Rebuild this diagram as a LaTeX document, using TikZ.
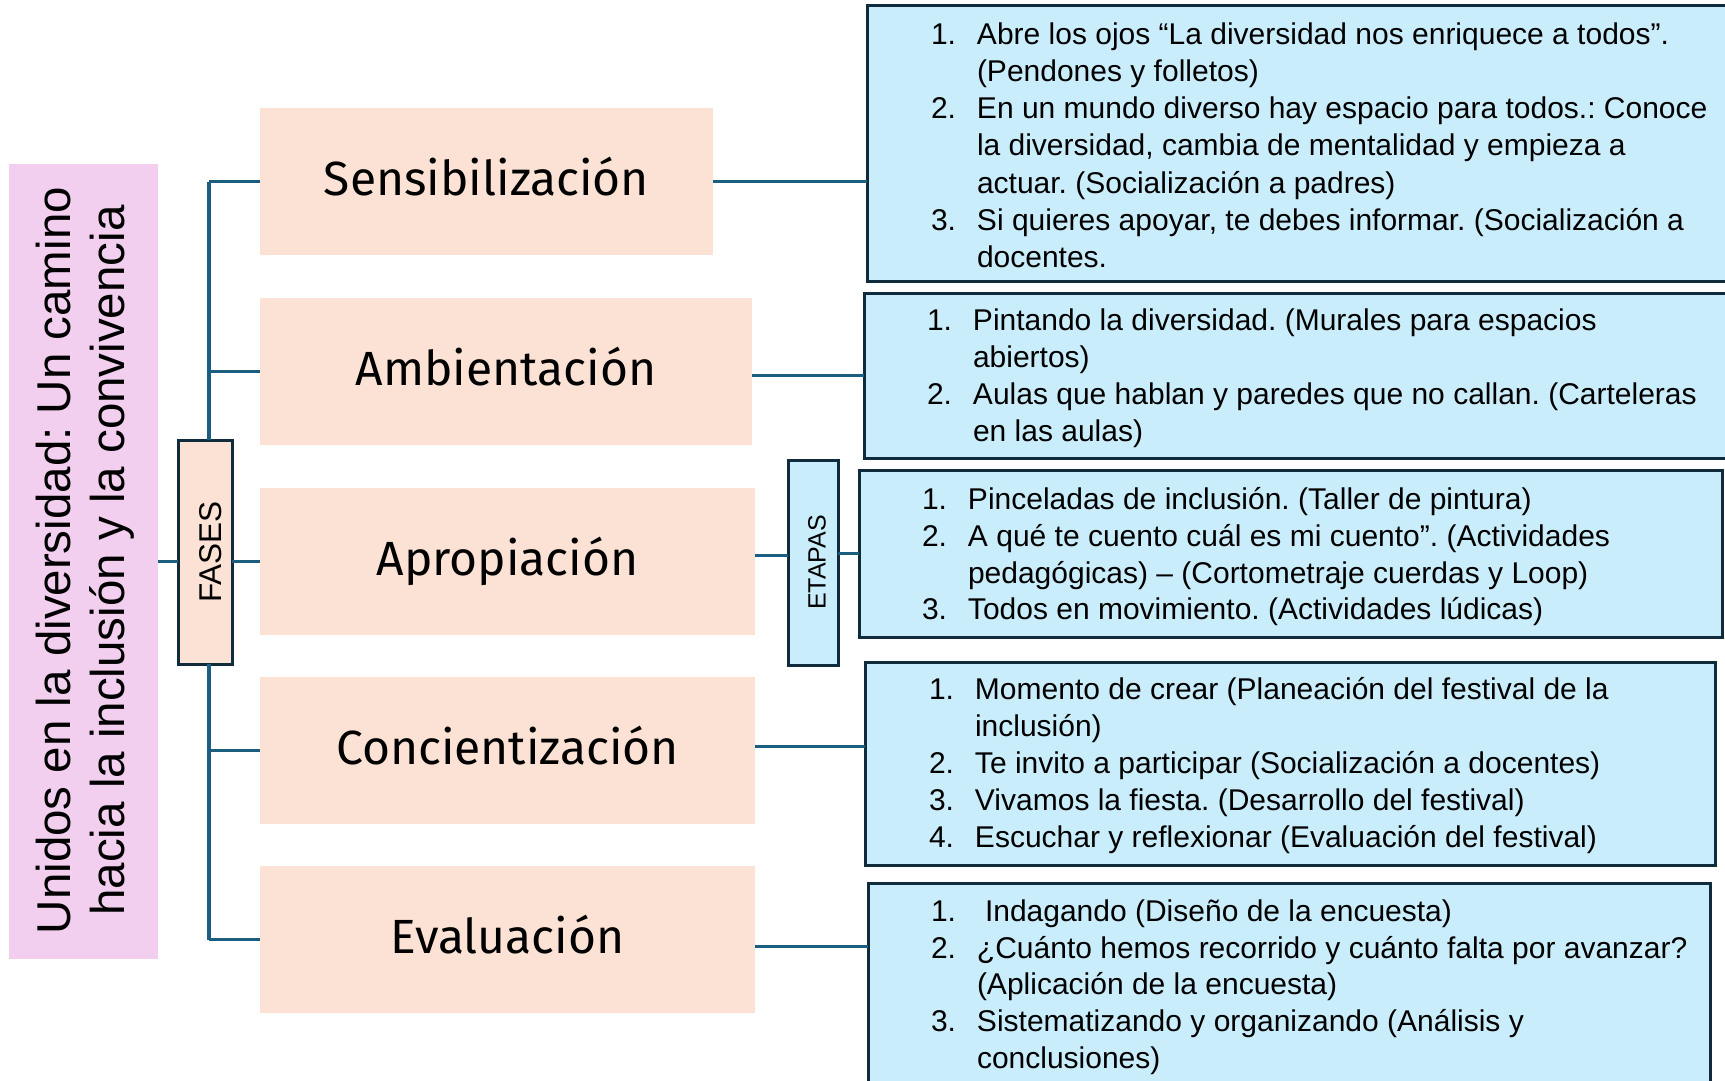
\documentclass[tikz,border=0pt]{standalone}
\usepackage{fontspec}
\setmainfont{Liberation Sans}
\newfontfamily\phasefont{Fira Sans}
\definecolor{pinkbg}{HTML}{F2CEEF}
\definecolor{peach}{HTML}{FBE2D5}
\definecolor{bluebg}{HTML}{CAEDFB}
\definecolor{connc}{HTML}{1B5E80}
\definecolor{borderc}{HTML}{0F2B3C}
\newcommand{\bnum}[1]{\makebox[46pt][l]{#1}}
\frenchspacing
\begin{document}
\begin{tikzpicture}[x=1pt,y=-1pt,
  conn/.style={draw=connc, line width=3pt},
  trunk/.style={draw=connc, line width=4pt},
  phase/.style={fill=peach, inner sep=0pt, outer sep=0pt, anchor=north west, minimum height=147pt,
    font=\phasefont\fontsize{48}{58}\selectfont, text height=38pt, text depth=10pt},
  bluebox/.style={fill=bluebg, draw=borderc, line width=3pt, anchor=north west, inner sep=0pt, outer sep=0pt},
  bluetext/.style={anchor=north west, inner sep=0pt, outer sep=0pt, align=left},
  tagbox/.style={draw=borderc, line width=3pt, inner sep=0pt, outer sep=0pt, anchor=north west},
]
\useasboundingbox (0,0) rectangle (1725,1080);

% title
\node[fill=pinkbg, minimum width=149pt, minimum height=795pt, anchor=north west, inner sep=0pt, outer sep=0pt] (tbox) at (9,164) {};
\node[inner sep=0pt] (ttext) at (86.5,560.5) {\rotatebox{90}{\fontsize{47.5}{55}\selectfont\begin{tabular}{@{}c@{}}Unidos en la diversidad: Un camino\\ hacia la inclusión y la convivencia\end{tabular}}};

% phases
\node[phase, minimum width=453pt] (s1) at (260,108) {Sensibilización};
\node[phase, minimum width=492pt] (s2) at (260,298) {Ambientación};
\node[phase, minimum width=495pt] (s3) at (260,488) {Apropiación};
\node[phase, minimum width=495pt] (s4) at (260,677) {Concientización};
\node[phase, minimum width=495pt] (s5) at (260,866) {Evaluación};

% fases / etapas
\node[tagbox, fill=peach, minimum width=54pt, minimum height=224pt] (fases) at (178,440)
  {\hspace*{12pt}\rotatebox{90}{\fontsize{31.5}{36}\selectfont FASES}};
\node[tagbox, fill=bluebg, minimum width=50pt, minimum height=205pt] (etapas) at (788,460)
  {\hspace*{8pt}\rotatebox{90}{\fontsize{25}{30}\selectfont ETAPAS}};

% blue boxes
\node[bluebox, minimum width=880pt, minimum height=276pt] (b1) at (867,5) {};
\node[bluebox, minimum width=880pt, minimum height=165pt] (b2) at (864,293) {};
\node[bluebox, minimum width=863pt, minimum height=167pt] (b3) at (859,470) {};
\node[bluebox, minimum width=850pt, minimum height=203pt] (b4) at (865,662) {};
\node[bluebox, minimum width=842pt, minimum height=230pt] (b5) at (868,883) {};

% blue texts
\node[bluetext] (t1) at (931,17.9) {\fontsize{30}{37.3}\selectfont
\begin{tabular}{@{}l@{}l@{}}
\bnum{1.} & Abre los ojos “La diversidad nos enriquece a todos”.\\
 & (Pendones y folletos)\\
\bnum{2.} & En un mundo diverso hay espacio para todos.: Conoce\\
 & la diversidad, cambia de mentalidad y empieza a\\
 & actuar. (Socialización a padres)\\
\bnum{3.} & Si quieres apoyar, te debes informar. (Socialización a\\
 & docentes.
\end{tabular}};
\node[bluetext] (t2) at (927,305) {\fontsize{30}{37}\selectfont
\begin{tabular}{@{}l@{}l@{}}
\bnum{1.} & Pintando la diversidad. (Murales para espacios\\
 & abiertos)\\
\bnum{2.} & Aulas que hablan y paredes que no callan. (Carteleras\\
 & en las aulas)
\end{tabular}};
\node[bluetext] (t3) at (922,484) {\fontsize{30}{36.7}\selectfont
\begin{tabular}{@{}l@{}l@{}}
\bnum{1.} & Pinceladas de inclusión. (Taller de pintura)\\
\bnum{2.} & A qué te cuento cuál es mi cuento”. (Actividades\\
 & pedagógicas) – (Cortometraje cuerdas y Loop)\\
\bnum{3.} & Todos en movimiento. (Actividades lúdicas)
\end{tabular}};
\node[bluetext] (t4) at (929,674) {\fontsize{30}{37}\selectfont
\begin{tabular}{@{}l@{}l@{}}
\bnum{1.} & Momento de crear (Planeación del festival de la\\
 & inclusión)\\
\bnum{2.} & Te invito a participar (Socialización a docentes)\\
\bnum{3.} & Vivamos la fiesta. (Desarrollo del festival)\\
\bnum{4.} & Escuchar y reflexionar (Evaluación del festival)
\end{tabular}};
\node[bluetext] (t5) at (931,896) {\fontsize{30}{36.6}\selectfont
\begin{tabular}{@{}l@{}l@{}}
\bnum{1.} & \hspace*{8pt}Indagando (Diseño de la encuesta)\\
\bnum{2.} & ¿Cuánto hemos recorrido y cuánto falta por avanzar?\\
 & (Aplicación de la encuesta)\\
\bnum{3.} & Sistematizando y organizando (Análisis y\\
 & conclusiones)
\end{tabular}};

% connectors
\coordinate (tx) at (209,0);
\draw[trunk] (tx |- s1.west) -- (tx |- fases.north);
\draw[trunk] (tx |- fases.south) -- (tx |- s5.west);
\foreach \s in {s1,s2,s4,s5} \draw[conn] (tx |- \s.west) -- (\s.west);
\draw[conn] (fases.east |- s3.west) -- (s3.west);
\draw[conn] (tbox.east |- s3.west) -- (fases.west |- s3.west);

\coordinate (e3) at ([yshift=6.5pt]s3.east);
\coordinate (e4) at ([yshift=4.5pt]s4.east);
\coordinate (e5) at ([yshift=-6.5pt]s5.east);
\draw[conn] (s1.east) -- (s1.east -| b1.west);
\draw[conn] (s2.east |- b2.west) -- (b2.west);
\draw[conn] (e3) -- (e3 -| etapas.west);
\draw[conn] (b3.west -| etapas.east) -- (b3.west);
\draw[conn] (e4) -- (e4 -| b4.west);
\draw[conn] (e5) -- (e5 -| b5.west);
\end{tikzpicture}
\end{document}
